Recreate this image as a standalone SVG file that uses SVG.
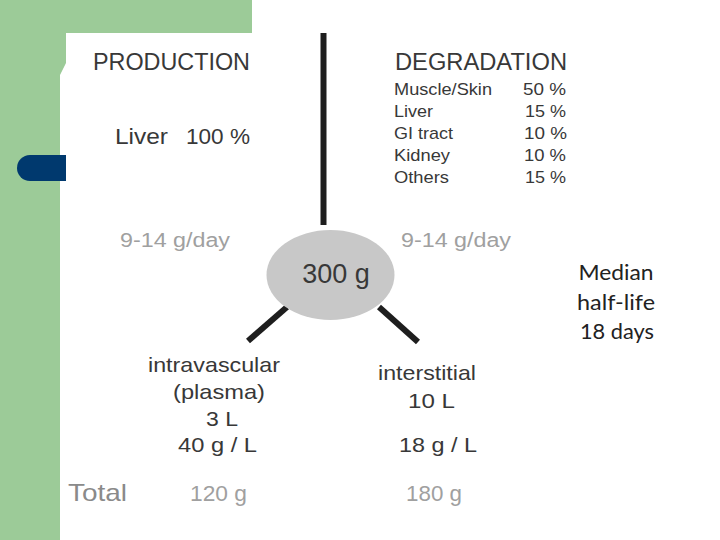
<svg xmlns="http://www.w3.org/2000/svg" width="720" height="540" viewBox="0 0 720 540">
<style>
.dk{font-family:"Liberation Sans",Arial,sans-serif;fill:#383838}
.gr{font-family:"Liberation Sans",Arial,sans-serif;fill:#a0a0a0}
.cb{font-family:Lato,"Open Sans",sans-serif;fill:#222222}
.ln{stroke:#1e1e1e;stroke-width:6;stroke-linecap:butt}
</style>
<rect width="720" height="540" fill="#ffffff"/>
<g id="background">
<path d="M0 0H252V33H66V63L60 75V540H0Z" fill="#9ccb98"/>
<path d="M30 155H66V181H30A13 13 0 0 1 30 155Z" fill="#00396e"/>
</g>
<g id="connectors">
<line class="ln" x1="323.5" y1="33" x2="323.5" y2="225"/>
<line class="ln" x1="287" y1="307" x2="248" y2="341"/>
<line class="ln" x1="379" y1="307" x2="418" y2="342"/>
</g>
<g id="production">
<text class="dk" x="93" y="70" font-size="23" textLength="157" lengthAdjust="spacingAndGlyphs">PRODUCTION</text>
<text class="dk" x="115" y="144" font-size="22" textLength="53" lengthAdjust="spacingAndGlyphs">Liver</text>
<text class="dk" x="186" y="144" font-size="22" textLength="64" lengthAdjust="spacingAndGlyphs">100 %</text>
<text class="gr" x="120" y="247" font-size="20" textLength="110" lengthAdjust="spacingAndGlyphs">9-14 g/day</text>
</g>
<g id="degradation">
<text class="dk" x="395" y="70" font-size="23" textLength="172" lengthAdjust="spacingAndGlyphs">DEGRADATION</text>
<g font-size="17">
<text class="dk" x="394" y="95" textLength="98" lengthAdjust="spacingAndGlyphs">Muscle/Skin</text>
<text class="dk" x="394" y="117" textLength="39" lengthAdjust="spacingAndGlyphs">Liver</text>
<text class="dk" x="394" y="139" textLength="59" lengthAdjust="spacingAndGlyphs">GI tract</text>
<text class="dk" x="394" y="161" textLength="56" lengthAdjust="spacingAndGlyphs">Kidney</text>
<text class="dk" x="394" y="183" textLength="55" lengthAdjust="spacingAndGlyphs">Others</text>
<text class="dk" x="523" y="95" textLength="43" lengthAdjust="spacingAndGlyphs">50 %</text>
<text class="dk" x="525" y="117" textLength="41" lengthAdjust="spacingAndGlyphs">15 %</text>
<text class="dk" x="524" y="139" textLength="43" lengthAdjust="spacingAndGlyphs">10 %</text>
<text class="dk" x="524" y="161" textLength="42" lengthAdjust="spacingAndGlyphs">10 %</text>
<text class="dk" x="525" y="183" textLength="41" lengthAdjust="spacingAndGlyphs">15 %</text>
</g>
<text class="gr" x="401" y="247" font-size="20" textLength="110" lengthAdjust="spacingAndGlyphs">9-14 g/day</text>
</g>
<g id="pool">
<ellipse cx="330.5" cy="275" rx="64" ry="45" fill="#c8c8c8"/>
<text class="dk" x="336" y="283" font-size="27" text-anchor="middle">300 g</text>
</g>
<g id="halflife" text-anchor="middle" font-size="21">
<text class="cb" x="616" y="280" textLength="75" lengthAdjust="spacingAndGlyphs">Median</text>
<text class="cb" x="616" y="310" textLength="78" lengthAdjust="spacingAndGlyphs">half-life</text>
<text class="cb" x="617" y="339" textLength="74" lengthAdjust="spacingAndGlyphs">18 days</text>
</g>
<g id="intravascular" font-size="21">
<text class="dk" x="148" y="372" textLength="132" lengthAdjust="spacingAndGlyphs">intravascular</text>
<text class="dk" x="173" y="399" textLength="92" lengthAdjust="spacingAndGlyphs">(plasma)</text>
<text class="dk" x="206" y="426" textLength="32" lengthAdjust="spacingAndGlyphs">3 L</text>
<text class="dk" x="178" y="452" textLength="79" lengthAdjust="spacingAndGlyphs">40 g / L</text>
</g>
<g id="interstitial" font-size="21">
<text class="dk" x="378" y="380" textLength="98" lengthAdjust="spacingAndGlyphs">interstitial</text>
<text class="dk" x="408" y="408" textLength="47" lengthAdjust="spacingAndGlyphs">10 L</text>
<text class="dk" x="399" y="452" textLength="78" lengthAdjust="spacingAndGlyphs">18 g / L</text>
</g>
<g id="total">
<text class="gr" x="68" y="501" font-size="24" style="fill:#8a8a8a" textLength="59" lengthAdjust="spacingAndGlyphs">Total</text>
<text class="gr" x="190" y="501" font-size="22" textLength="57" lengthAdjust="spacingAndGlyphs">120 g</text>
<text class="gr" x="406" y="501" font-size="22" textLength="56" lengthAdjust="spacingAndGlyphs">180 g</text>
</g>
</svg>
